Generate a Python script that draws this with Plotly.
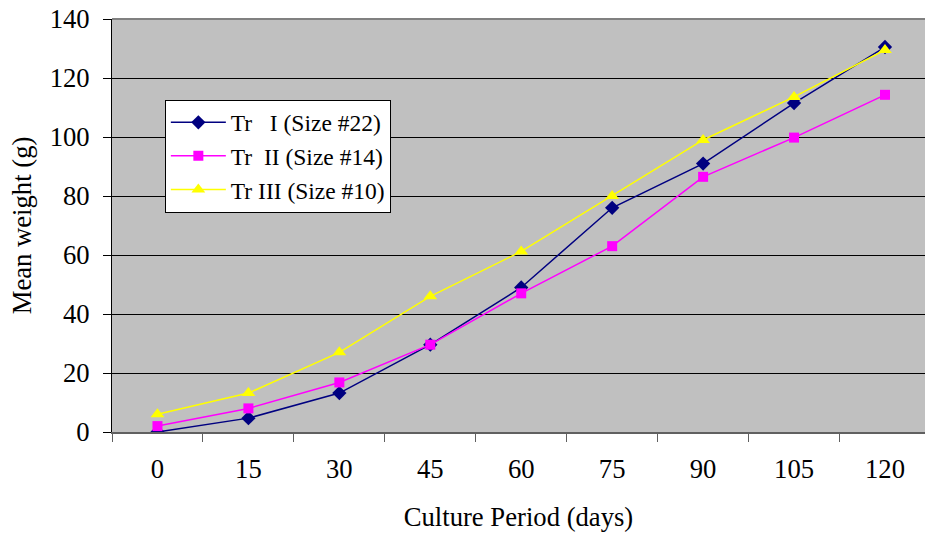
import plotly.graph_objects as go

days = ["0", "15", "30", "45", "60", "75", "90", "105", "120"]
tr1 = [0, 4.7, 13.2, 29.6, 49, 76, 91, 111.5, 130.5]
tr2 = [2, 8, 16.8, 29.6, 47, 63, 86.5, 99.8, 114.3]
tr3 = [6, 13.2, 27, 46, 61.2, 80, 99, 113.6, 129.5]
names = ["Tr\u00a0\u00a0\u00a0I (Size #22)", "Tr\u00a0\u00a0II (Size #14)", "Tr III (Size #10)"]

font = "Liberation Serif, Times New Roman, serif"
fs = 26.67
fig = go.Figure()
fig.add_trace(go.Scatter(x=days, y=tr1, name=names[0], mode="lines+markers",
                         line=dict(color="#000080", width=1.5),
                         marker=dict(symbol="diamond", size=11, color="#000080")))
fig.add_trace(go.Scatter(x=days, y=tr2, name=names[1], mode="lines+markers",
                         line=dict(color="#FF00FF", width=1.5),
                         marker=dict(symbol="square", size=10, color="#FF00FF")))
fig.add_trace(go.Scatter(x=days, y=tr3, name=names[2], mode="lines+markers",
                         line=dict(color="#FFFF00", width=1.5),
                         marker=dict(symbol="triangle-up", size=12, color="#FFFF00")))

fig.update_layout(
    width=925, height=534,
    margin=dict(l=112, r=0, t=19, b=102),
    paper_bgcolor="white", plot_bgcolor="#C0C0C0",
    font=dict(family=font, size=fs, color="black"),
    showlegend=True,
    legend=dict(x=0.065, y=0.805, xanchor="left", yanchor="top",
                bgcolor="white", bordercolor="black", borderwidth=1,
                font=dict(family=font, size=23.5), tracegroupgap=0,
                itemwidth=55),
    xaxis=dict(type="category", range=[-0.5, 8.44], tickson="boundaries",
               ticks="outside", ticklen=8, tickcolor="#606060",
               showgrid=False, showline=True, linecolor="#606060", linewidth=1.5,
               ticklabelstandoff=12,
               title=dict(text="Culture Period (days)", font=dict(size=fs), standoff=25),
               tickfont=dict(size=fs)),
    yaxis=dict(range=[0, 140], dtick=20, ticks="outside", ticklen=8, tickcolor="black",
               showgrid=True, gridcolor="black", gridwidth=1,
               showline=True, linecolor="black", linewidth=1, zeroline=False,
               ticklabelstandoff=8,
               title=dict(text="Mean weight (g)", font=dict(size=fs), standoff=10),
               tickfont=dict(size=fs)),
    shapes=[dict(type="line", xref="paper", yref="paper", x0=0, x1=1, y0=1, y1=1,
                 line=dict(color="#808080", width=2))],
)
fig.write_html("out.html")
